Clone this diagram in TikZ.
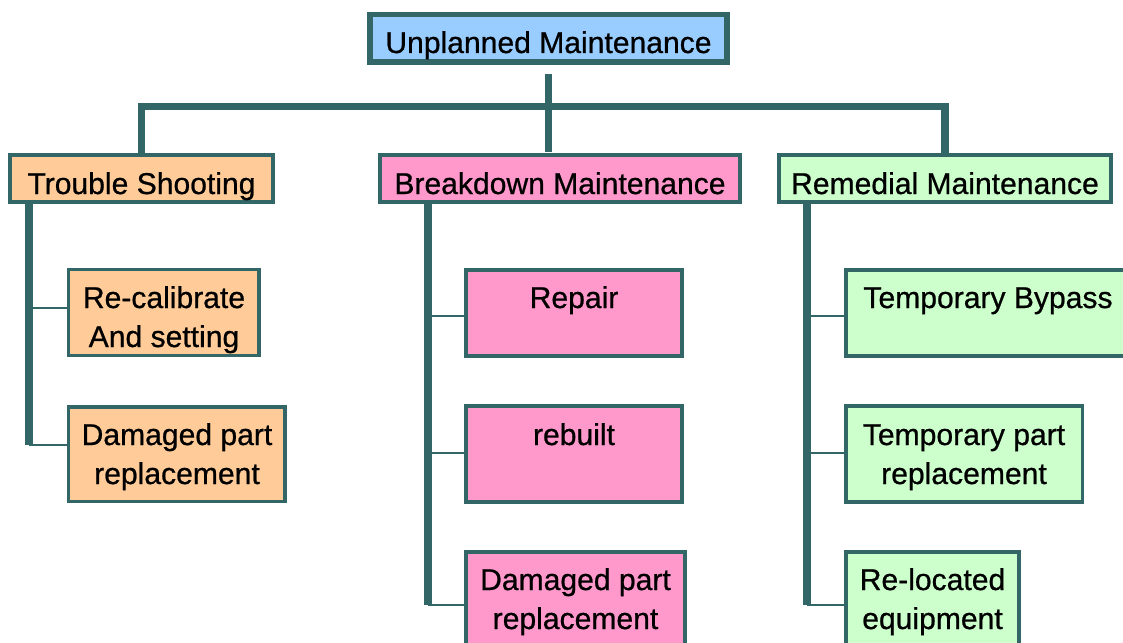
\documentclass[tikz,border=0pt]{standalone}
\usepackage{fontspec}
\setmainfont[FakeBold=0.7]{Liberation Sans}
\usetikzlibrary{calc}
\definecolor{edgecolor}{RGB}{51,102,102}
\definecolor{topcolor}{RGB}{153,204,255}
\definecolor{troublecolor}{RGB}{255,204,153}
\definecolor{breakcolor}{RGB}{255,153,204}
\definecolor{remedycolor}{RGB}{204,255,204}
\newcommand{\pxu}{0.025cm}

\begin{document}
\begin{tikzpicture}[x=0.025cm, y=-0.025cm,
    box/.style={draw=edgecolor, line width=2.6pt, anchor=north west, inner sep=0pt, outer sep=0pt},
    boxtext/.style={font=\fontsize{21.4}{25}\selectfont, anchor=base, inner sep=0pt},
    trunk/.style={draw=edgecolor, line width=5pt},
    twig/.style={draw=edgecolor, line width=1.4pt}]
    \useasboundingbox (0,0) rectangle (1123,643);

    % Top
    \node[box, line width=3.6pt, fill=topcolor, minimum width=357*\pxu, minimum height=47.5*\pxu] (top) at (370,14.5) {};
    \node[boxtext] (top-t) at (548.5,53) {Unplanned Maintenance};

    % Second level
    \node[box, fill=troublecolor, minimum width=263*\pxu, minimum height=47*\pxu] (ts) at (10,155) {};
    \node[boxtext] (ts-t) at (141.5,194) {Trouble Shooting};

    \node[box, fill=breakcolor, minimum width=360*\pxu, minimum height=47*\pxu] (bd) at (380,155) {};
    \node[boxtext] (bd-t) at (560,194) {Breakdown Maintenance};

    \node[box, fill=remedycolor, minimum width=332*\pxu, minimum height=47*\pxu] (rm) at (779,155) {};
    \node[boxtext] (rm-t) at (945,194) {Remedial Maintenance};

    % Trouble shooting tasks
    \node[box, fill=troublecolor, minimum width=190.5*\pxu, minimum height=86*\pxu] (rc) at (68.5,269.5) {};
    \node[boxtext] (rc-t1) at (164,308) {Re-calibrate};
    \node[boxtext] (rc-t2) at (164,347) {And setting};

    \node[box, fill=troublecolor, minimum width=216.5*\pxu, minimum height=94.5*\pxu] (dp1) at (68.5,407) {};
    \node[boxtext] (dp1-t1) at (177,445) {Damaged part};
    \node[boxtext] (dp1-t2) at (177,484) {replacement};

    % Breakdown tasks
    \node[box, fill=breakcolor, minimum width=216*\pxu, minimum height=86*\pxu] (rp) at (466,270) {};
    \node[boxtext] (rp-t) at (574,308) {Repair};

    \node[box, fill=breakcolor, minimum width=216*\pxu, minimum height=96*\pxu] (rb) at (466,406) {};
    \node[boxtext] (rb-t) at (574,445) {rebuilt};

    \node[box, fill=breakcolor, minimum width=219*\pxu, minimum height=96*\pxu] (dp2) at (466,552) {};
    \node[boxtext] (dp2-t1) at (575.5,590) {Damaged part};
    \node[boxtext] (dp2-t2) at (575.5,629) {replacement};

    % Remedial tasks
    \node[box, fill=remedycolor, minimum width=286*\pxu, minimum height=86*\pxu] (tb) at (846,270) {};
    \node[boxtext] (tb-t) at (988,308) {Temporary Bypass};

    \node[box, fill=remedycolor, minimum width=236.5*\pxu, minimum height=96*\pxu] (tp) at (846,406) {};
    \node[boxtext] (tp-t1) at (964,445) {Temporary part};
    \node[boxtext] (tp-t2) at (964,484) {replacement};

    \node[box, fill=remedycolor, minimum width=173*\pxu, minimum height=96*\pxu] (rl) at (846,552) {};
    \node[boxtext] (rl-t1) at (932.5,590) {Re-located};
    \node[boxtext] (rl-t2) at (932.5,629) {equipment};

    % Main branches
    \coordinate (hub) at (548.5,106.5);
    \draw[trunk] (ts.north) |- (hub) -| (rm.north);
    \draw[trunk] ($(top.south)+(0,12)$) -- ($(top.south |- bd.north)+(0,-3)$);

    % Sub branches
    \coordinate (ts-1) at (29,308);
    \coordinate (ts-2) at (29,445);
    \draw[trunk] (ts.south -| ts-2) -- (ts-2);
    \draw[twig] (ts-1) -- (ts-1 -| rc.west);
    \draw[twig] (ts-2) -- (ts-2 -| dp1.west);

    \coordinate (bd-1) at (428,316);
    \coordinate (bd-2) at (428,453);
    \coordinate (bd-3) at (428,605);
    \draw[trunk] (bd.south -| bd-3) -- (bd-3);
    \draw[twig] (bd-1) -- (bd-1 -| rp.west);
    \draw[twig] (bd-2) -- (bd-2 -| rb.west);
    \draw[twig] (bd-3) -- (bd-3 -| dp2.west);

    \coordinate (rm-1) at (807,316);
    \coordinate (rm-2) at (807,453);
    \coordinate (rm-3) at (807,605);
    \draw[trunk] (rm.south -| rm-3) -- (rm-3);
    \draw[twig] (rm-1) -- (rm-1 -| tb.west);
    \draw[twig] (rm-2) -- (rm-2 -| tp.west);
    \draw[twig] (rm-3) -- (rm-3 -| rl.west);

\end{tikzpicture}
\end{document}
